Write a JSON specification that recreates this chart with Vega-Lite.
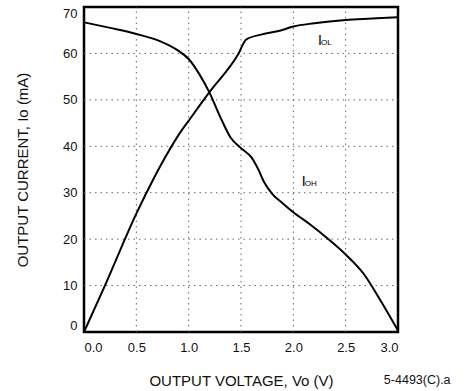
{
  "$schema": "https://vega.github.io/schema/vega-lite/v6.json",
  "autosize": "none",
  "width": 314,
  "height": 325,
  "padding": {"left": 84, "top": 7, "right": 68, "bottom": 59},
  "background": "white",
  "config": {
    "view": {"stroke": "#000", "strokeWidth": 2.5},
    "font": "Liberation Sans"
  },
  "datasets": {
    "curves": [
      {"series": "IOL", "v": 0.0, "i": 0.0},
      {"series": "IOL", "v": 0.2, "i": 10.0},
      {"series": "IOL", "v": 0.5, "i": 25.5},
      {"series": "IOL", "v": 0.66, "i": 32.8},
      {"series": "IOL", "v": 0.78, "i": 37.8},
      {"series": "IOL", "v": 0.92, "i": 43.0},
      {"series": "IOL", "v": 1.0, "i": 45.5},
      {"series": "IOL", "v": 1.2, "i": 51.7},
      {"series": "IOL", "v": 1.47, "i": 59.7},
      {"series": "IOL", "v": 1.55, "i": 63.0},
      {"series": "IOL", "v": 1.7, "i": 64.1},
      {"series": "IOL", "v": 1.87, "i": 64.9},
      {"series": "IOL", "v": 2.0, "i": 65.8},
      {"series": "IOL", "v": 2.2, "i": 66.5},
      {"series": "IOL", "v": 2.5, "i": 67.2},
      {"series": "IOL", "v": 2.75, "i": 67.5},
      {"series": "IOL", "v": 3.0, "i": 67.8},
      {"series": "IOH", "v": 0.0, "i": 66.7},
      {"series": "IOH", "v": 0.25, "i": 65.5},
      {"series": "IOH", "v": 0.5, "i": 64.2},
      {"series": "IOH", "v": 0.73, "i": 62.6},
      {"series": "IOH", "v": 0.9, "i": 60.6},
      {"series": "IOH", "v": 1.0, "i": 58.8},
      {"series": "IOH", "v": 1.1, "i": 55.6},
      {"series": "IOH", "v": 1.2, "i": 51.5},
      {"series": "IOH", "v": 1.3, "i": 46.4},
      {"series": "IOH", "v": 1.4, "i": 41.9},
      {"series": "IOH", "v": 1.5, "i": 39.6},
      {"series": "IOH", "v": 1.6, "i": 37.6},
      {"series": "IOH", "v": 1.67, "i": 34.8},
      {"series": "IOH", "v": 1.72, "i": 32.3},
      {"series": "IOH", "v": 1.8, "i": 29.7},
      {"series": "IOH", "v": 1.9, "i": 27.7},
      {"series": "IOH", "v": 2.0, "i": 25.8},
      {"series": "IOH", "v": 2.17, "i": 23.0},
      {"series": "IOH", "v": 2.33, "i": 20.1},
      {"series": "IOH", "v": 2.5, "i": 16.7},
      {"series": "IOH", "v": 2.67, "i": 12.6},
      {"series": "IOH", "v": 2.83, "i": 6.9},
      {"series": "IOH", "v": 3.0, "i": 0.3}
    ],
    "gridx": [
      {"v": 0.5, "i": 0, "i2": 70},
      {"v": 1.0, "i": 0, "i2": 70},
      {"v": 1.5, "i": 0, "i2": 70},
      {"v": 2.0, "i": 0, "i2": 70},
      {"v": 2.5, "i": 0, "i2": 70}
    ],
    "gridy": [
      {"i": 10, "v": 0, "v2": 3.0},
      {"i": 20, "v": 0, "v2": 3.0},
      {"i": 30, "v": 0, "v2": 3.0},
      {"i": 40, "v": 0, "v2": 3.0},
      {"i": 50, "v": 0, "v2": 3.0},
      {"i": 60, "v": 0, "v2": 3.0}
    ],
    "labels": [
      {"series": "IOL", "main": "I", "sub": "OL", "v": 2.235, "i": 61.9},
      {"series": "IOH", "main": "I", "sub": "OH", "v": 2.08, "i": 31.5}
    ],
    "note": [
      {"text": "5-4493(C).a", "v": 2.865, "i": -11.2}
    ]
  },
  "encoding": {
    "x": {
      "field": "v", "type": "quantitative",
      "scale": {"domain": [0, 3.0], "nice": false, "zero": false},
      "axis": {
        "values": [0, 0.5, 1.0, 1.5, 2.0, 2.5, 3.0],
        "format": ".1f",
        "domain": false,
        "ticks": false,
        "grid": false,
        "labelFont": "Liberation Sans",
        "labelFontSize": 13,
        "labelColor": "#111",
        "labelFlush": true,
        "labelPadding": 9,
        "title": "OUTPUT VOLTAGE, Vo (V)",
        "titleFont": "Liberation Sans",
        "titleFontSize": 15,
        "titleFontWeight": "normal",
        "titleColor": "#111",
        "titleY": 53,
        "titleBaseline": "alphabetic"
      }
    },
    "y": {
      "field": "i", "type": "quantitative",
      "scale": {"domain": [0, 70], "nice": false},
      "axis": {
        "values": [0, 10, 20, 30, 40, 50, 60, 70],
        "domain": false,
        "ticks": false,
        "grid": false,
        "labelFont": "Liberation Sans",
        "labelFontSize": 13,
        "labelColor": "#111",
        "labelFlush": true,
        "labelPadding": 7,
        "title": "OUTPUT CURRENT, Io (mA)",
        "titleFont": "Liberation Sans",
        "titleFontSize": 15,
        "titleFontWeight": "normal",
        "titleColor": "#111",
        "titleX": -57,
        "titleY": 162.5,
        "titleAngle": -90,
        "titleBaseline": "alphabetic",
        "titleAlign": "center"
      }
    }
  },
  "layer": [
    {
      "data": {"name": "gridx"},
      "mark": {"type": "rule", "strokeDash": [1.5, 4], "strokeWidth": 1},
      "encoding": {
        "y2": {"field": "i2"},
        "color": {"value": "#666"}
      }
    },
    {
      "data": {"name": "gridy"},
      "mark": {"type": "rule", "strokeDash": [1.5, 4], "strokeWidth": 1},
      "encoding": {
        "x2": {"field": "v2"},
        "color": {"value": "#666"}
      }
    },
    {
      "data": {"name": "curves"},
      "mark": {"type": "line", "interpolate": "monotone", "strokeWidth": 2},
      "encoding": {
        "detail": {"field": "series"},
        "color": {"value": "#000"}
      }
    },
    {
      "data": {"name": "labels"},
      "mark": {"type": "text", "align": "left", "baseline": "alphabetic", "fontSize": 14, "font": "Liberation Sans"},
      "encoding": {
        "text": {"field": "main"},
        "color": {"value": "#000"}
      }
    },
    {
      "data": {"name": "labels"},
      "mark": {"type": "text", "align": "left", "baseline": "alphabetic", "fontSize": 8, "dx": 3, "font": "Liberation Sans"},
      "encoding": {
        "text": {"field": "sub"},
        "color": {"value": "#000"}
      }
    },
    {
      "data": {"name": "note"},
      "mark": {"type": "text", "align": "left", "baseline": "alphabetic", "fontSize": 12.5, "font": "Liberation Sans"},
      "encoding": {
        "text": {"field": "text"},
        "color": {"value": "#111"}
      }
    }
  ]
}
